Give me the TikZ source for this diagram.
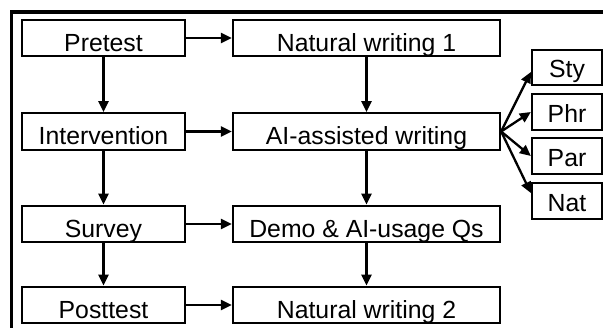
\documentclass[tikz,border=0pt]{standalone}
\usepackage{fontspec}
\setmainfont{Liberation Sans}
\usetikzlibrary{arrows.meta}
\begin{document}
\begin{tikzpicture}[x=1pt,y=-1pt,
  box/.style={draw, line width=2.3pt, minimum height=36.5pt, inner sep=0pt, text height=26pt, text depth=0pt, font=\fontsize{24.8}{26}\selectfont},
  lbox/.style={box, minimum width=163pt},
  rbox/.style={box, minimum width=267pt},
  sbox/.style={box, minimum width=70pt, minimum height=35.5pt, text height=20.5pt},
  arr/.style={line width=2.3pt, -{Triangle[length=11pt,width=10pt]}}]
\useasboundingbox (0,0) rectangle (603,327);
\clip (0,0) rectangle (603,327);
\draw[line width=3.2pt] (11.5,12) rectangle (640,360);
\node[lbox] (pre) at (103.5,38) {Pretest};
\node[rbox] (nw1) at (366.5,38) {Natural writing 1};
\node[lbox] (int) at (103.5,131.5) {Intervention};
\node[rbox] (ai) at (366.5,131.5) {AI-assisted writing};
\node[lbox] (sur) at (103.5,224) {Survey};
\node[rbox] (demo) at (366.5,224) {Demo \& AI-usage Qs};
\node[lbox] (post) at (103.5,305) {Posttest};
\node[rbox] (nw2) at (366.5,305) {Natural writing 2};
\node[sbox] (sty) at (567,67.5) {Sty};
\node[sbox] (phr) at (567,112) {Phr};
\node[sbox] (par) at (567,156) {Par};
\node[sbox] (nat) at (567,201) {Nat};
\draw[arr] (pre) -- (nw1);
\draw[arr] (int) -- (ai);
\draw[arr] (sur) -- (demo);
\draw[arr] (post) -- (nw2);
\draw[arr] (pre) -- (int);
\draw[arr] (int) -- (sur);
\draw[arr] (sur) -- (post);
\draw[arr] (nw1) -- (ai);
\draw[arr] (ai) -- (demo);
\draw[arr] (demo) -- (nw2);
\draw[arr] (ai.east) -- ([yshift=-4.5pt]sty.west);
\draw[arr] (ai.east) -- (phr.west);
\draw[arr] (ai.east) -- (par.west);
\draw[arr] (ai.east) -- ([yshift=8pt]nat.west);
\end{tikzpicture}
\end{document}
